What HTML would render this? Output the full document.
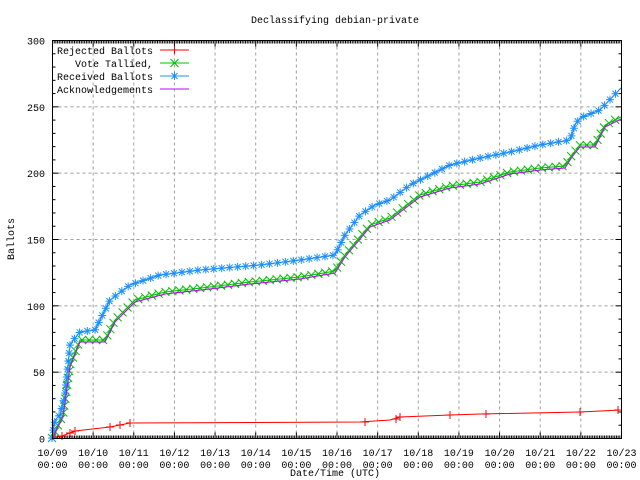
<!DOCTYPE html>
<html><head><meta charset="utf-8"><style>
body{margin:0;background:#fff}
svg{display:block}
text{font-family:"Liberation Mono","DejaVu Sans Mono",monospace;font-size:10px;fill:#000}
</style></head><body>
<svg id="s" width="640" height="480" xmlns="http://www.w3.org/2000/svg">
<text x="335" y="23" text-anchor="middle">Declassifying debian-private</text>
<g id="grid" stroke="#a0a0a0" stroke-dasharray="3,3" stroke-width="1"></g>
<g id="ax"></g>
<g id="series"></g>
<rect x="52.5" y="40.5" width="569" height="398" fill="none" stroke="#000"/>
<text transform="translate(14,239) rotate(-90)" text-anchor="middle">Ballots</text>
<text x="335" y="476" text-anchor="middle">Date/Time (UTC)</text>
<g id="leg"></g>
</svg>
<script>
const NS="http://www.w3.org/2000/svg";
function el(p,t,a,txt){const e=document.createElementNS(NS,t);for(const k in a)e.setAttribute(k,a[k]);if(txt!=null)e.textContent=txt;document.getElementById(p).appendChild(e);return e;}
const X0=52.5,X1=621.5,Y0=438.5,Y1=40.5;
const yv=v=>Y0-(Y0-Y1)*v/300;
const dx=(X1-X0)/14;
for(let v=0;v<=300;v+=50){const y=yv(v);
 if(v>0&&v<300)el("grid","line",{x1:X0,x2:X1,y1:y,y2:y});
 el("ax","line",{x1:X0,x2:X0+6,y1:y,y2:y,stroke:"#000"});
 el("ax","line",{x1:X1,x2:X1-6,y1:y,y2:y,stroke:"#000"});
 el("ax","text",{x:45,y:y+4,"text-anchor":"end"},String(v));
 if(v<300)for(let m=1;m<5;m++){const ym=yv(v+m*10);el("ax","line",{x1:X0,x2:X0+3,y1:ym,y2:ym,stroke:"#000"});el("ax","line",{x1:X1,x2:X1-3,y1:ym,y2:ym,stroke:"#000"});}
}
for(let d=0;d<=14;d++){const x=X0+d*dx;
 if(d>0&&d<14)el("grid","line",{x1:x,x2:x,y1:Y1,y2:Y0});
 el("ax","line",{x1:x,x2:x,y1:Y0,y2:Y0-6,stroke:"#000"});
 el("ax","line",{x1:x,x2:x,y1:Y1,y2:Y1+6,stroke:"#000"});
 el("ax","text",{x:x,y:456,"text-anchor":"middle"},"10/"+String(9+d).padStart(2,"0"));
 el("ax","text",{x:x,y:468,"text-anchor":"middle"},"00:00");
 if(d<14)for(let m=1;m<24;m++){const xm=x+m*dx/24;el("ax","line",{x1:xm,x2:xm,y1:Y0,y2:Y0-3,stroke:"#000"});el("ax","line",{x1:xm,x2:xm,y1:Y1,y2:Y1+3,stroke:"#000"});}
}
const blue=[[52,438],[55,420],[60,415],[65,395],[70,345],[75,338],[80,332],[95,330],[110,300],[130,285],[160,275],[200,270],[260,265],[300,260],[335,255],[345,235],[360,215],[375,205],[390,200],[410,185],[450,165],[480,158],[510,152],[540,145],[570,140],[575,125],[580,118],[600,110],[621,88]];
const green=[[52,438],[58,425],[63,415],[70,365],[80,340],[105,340],[115,320],[135,300],[165,292],[210,287],[250,282],[300,277],[335,271],[345,255],[370,225],[390,218],[420,195],[450,186],[480,182],[510,172],[540,168],[565,166],[572,155],[580,145],[595,145],[605,125],[621,117]];
const purple=green.map(p=>[p[0],p[1]+2]);
const red=[[52,438],[62,436],[70,433],[75,431],[110,427],[120,425],[130,423],[360,422],[390,420],[400,417],[450,415],[480,414],[580,412],[621,410]];
function line(pts,c){el("series","polyline",{points:pts.map(p=>p.join(",")).join(" "),fill:"none",stroke:c,"stroke-width":1});}
function mk(g,x,y,c,t){
 if(t==="plus"){el(g,"path",{d:`M${x-4},${y}H${x+4}M${x},${y-4}V${y+4}`,stroke:c,fill:"none"});}
 else if(t==="x"){el(g,"path",{d:`M${x-4},${y-4}L${x+4},${y+4}M${x-4},${y+4}L${x+4},${y-4}`,stroke:c,fill:"none"});}
 else {el(g,"path",{d:`M${x-4},${y}H${x+4}M${x},${y-4}V${y+4}M${x-3},${y-3}L${x+3},${y+3}M${x-3},${y+3}L${x+3},${y-3}`,stroke:c,fill:"none"});}
}
function markers(pts,c,t,step){let acc=0;mk("series",pts[0][0],pts[0][1],c,t);
 for(let i=1;i<pts.length;i++){const [a,b]=pts[i-1],[x,y]=pts[i];const L=Math.hypot(x-a,y-b);let s=step-acc;
  while(s<=L){mk("series",a+(x-a)*s/L,b+(y-b)*s/L,c,t);s+=step;}acc=(acc+L)%step;}
}
line(red,"#ff0000");
[[62,436],[70,433],[75,431],[110,427],[120,425],[130,423],[365,422],[396,419],[400,417],[450,415],[486,414],[580,412],[618,410]].forEach(p=>mk("series",p[0],p[1],"#ff0000","plus"));
line(green,"#00c000");markers(green,"#00c000","x",7);
line(blue,"#0080ff");markers(blue,"#1e90ff","star",8);
line(purple,"#c000ff");
const L=[["Rejected Ballots","#ff0000","plus"],["Vote Tallied,","#00c000","x"],["Received Ballots","#1e90ff","star"],["Acknowledgements","#c000ff",null]];
L.forEach((l,i)=>{const y=50+i*13;el("leg","text",{x:153,y:y+4,"text-anchor":"end"},l[0]);
 el("leg","line",{x1:160,x2:189,y1:y,y2:y,stroke:l[1]});if(l[2])mk("leg",174.5,y,l[1],l[2]);});
</script>
</body></html>
